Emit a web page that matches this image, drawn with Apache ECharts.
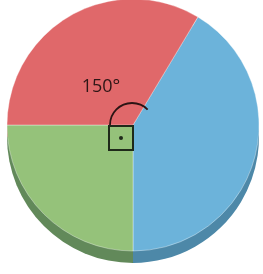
<!DOCTYPE html>
<html>
<head>
<meta charset="utf-8">
<script src="https://cdn.jsdelivr.net/npm/echarts@6/dist/echarts.min.js"></script>
<style>
  html, body { margin: 0; padding: 0; background: #fff; }
  #chart { width: 263px; height: 274px; }
</style>
</head>
<body>
<div id="chart"></div>
<script>
// slice angles (degrees) as they appear in the picture, clockwise from the red/blue edge
const names = ['blue', 'green', 'red']
const values = [149, 90, 121]
const faceColors = ['#6cb3da', '#95c27a', '#e0686a']
const sideColors = ['#4d88a8', '#62895a', '#b04e50']
const angleLabel = '150°'

const chart = echarts.init(document.getElementById('chart'))

const data = names.map((n, i) => ({ name: n, value: values[i] }))

chart.setOption({
  animation: false,
  series: [
    {
      // darker copy underneath gives the thickness at the bottom
      type: 'pie',
      center: [133, 137],
      radius: 126,
      startAngle: 59,
      silent: true,
      label: { show: false },
      labelLine: { show: false },
      data: data.map((d, i) => ({ ...d, itemStyle: { color: sideColors[i] } }))
    },
    {
      type: 'pie',
      center: [133, 125],
      radius: 126,
      startAngle: 59,
      label: { show: false },
      labelLine: { show: false },
      itemStyle: { borderColor: 'rgba(255,255,255,0.6)', borderWidth: 0.6 },
      data: data.map((d, i) => ({ ...d, itemStyle: { color: faceColors[i] } }))
    }
  ],
  graphic: [
    {
      type: 'arc',
      z: 100,
      shape: { cx: 132, cy: 125, r: 22, startAngle: Math.PI, endAngle: 2 * Math.PI - 0.78, clockwise: true },
      style: { stroke: '#2a1414', lineWidth: 1.8, fill: null }
    },
    {
      type: 'rect',
      z: 100,
      shape: { x: 109, y: 126, width: 24, height: 24 },
      style: { stroke: '#1f2a1a', lineWidth: 2, fill: null }
    },
    {
      type: 'circle',
      z: 100,
      shape: { cx: 121, cy: 138, r: 2 },
      style: { fill: '#1f2a1a' }
    },
    {
      type: 'text',
      z: 100,
      x: 101,
      y: 87,
      style: {
        text: angleLabel,
        font: '18px "Open Sans", sans-serif',
        fill: '#2e1616',
        align: 'center',
        verticalAlign: 'middle'
      }
    }
  ]
})
</script>
</body>
</html>
